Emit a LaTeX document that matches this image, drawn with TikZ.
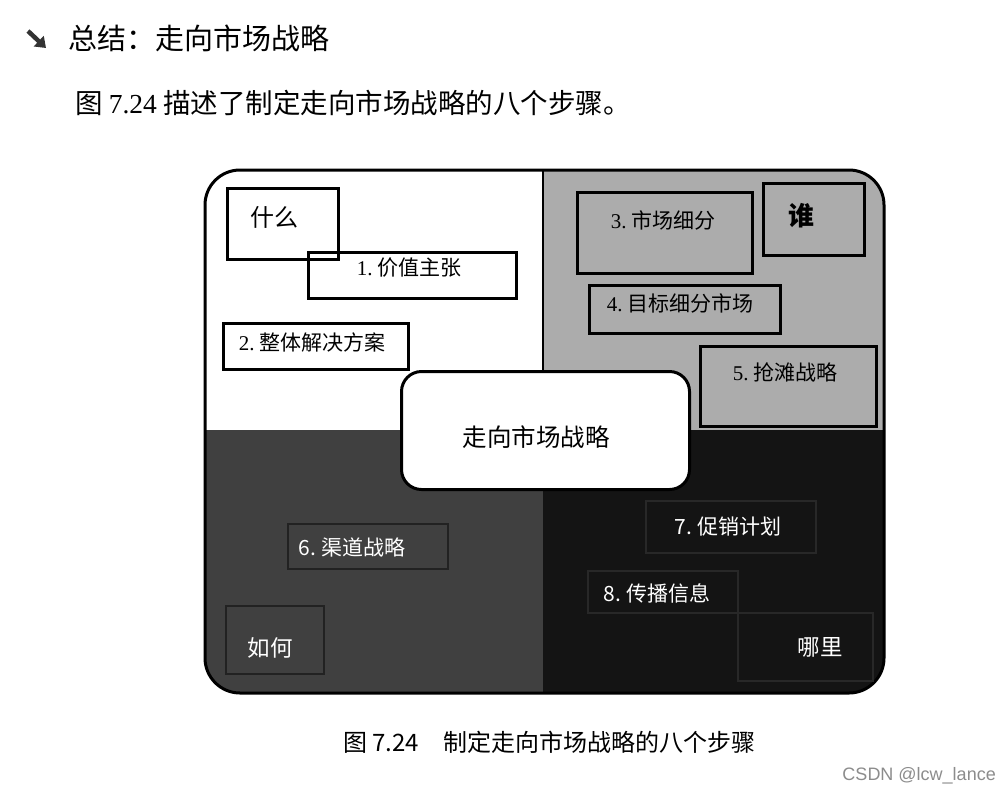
\documentclass[tikz,border=0pt]{standalone}
\usepackage{fontspec}
\usetikzlibrary{arrows.meta}
\newfontfamily\cjk{Noto Sans CJK SC}
\newfontfamily\numserif{Liberation Serif}
\newfontfamily\marchio{Liberation Sans}

\begin{document}
\begin{tikzpicture}[x=1pt, y=-1pt,
  box/.style={draw=black, line width=2.5pt, inner sep=0pt, anchor=north west},
  boxscuro/.style={box, draw=colorBordoScuro, line width=2pt},
  boxnero/.style={box, draw=colorBordoNero, line width=1.5pt},
  etichetta/.style={inner sep=0pt, font=\cjk\fontsize{21}{23}\selectfont},
  domanda/.style={inner sep=0pt, font=\cjk\fontsize{22.5}{24}\selectfont}
    ]
    % Colori locali
    \definecolor{colorGrigio}{RGB}{172, 172, 172}
    \definecolor{colorScuro}{RGB}{64, 64, 64}
    \definecolor{colorNero}{RGB}{20, 20, 20}
    \definecolor{colorBordoScuro}{RGB}{34, 34, 34}
    \definecolor{colorBordoNero}{RGB}{40, 40, 40}

    % Pagina
    \fill[white] (0,0) rectangle (1000,793);
    \useasboundingbox (0,0) rectangle (1000,793);

    % Intestazione
    \coordinate (freccia-a) at (28,31);
    \coordinate (freccia-b) at (46,48);
    \draw[line width=4.5pt, black!80, -{Triangle[length=10pt, width=14pt]}] (freccia-a) -- (freccia-b);
    \node[anchor=west, inner sep=0pt, font=\cjk\fontsize{29}{31}\selectfont] (titolo) at (68,38) {总结：走向市场战略};
    \node[anchor=west, inner sep=0pt, font=\cjk\fontsize{27.5}{30}\selectfont] (testo) at (75,103) {图 {\numserif 7.24} 描述了制定走向市场战略的八个步骤。};

    % Quadranti
    \begin{scope}
      \clip[rounded corners=35pt] (205,170) rectangle (884,693);
      \fill[colorGrigio] (543,170) rectangle (884,430);
      \fill[colorScuro] (205,430) rectangle (543,693);
      \fill[colorNero] (543,430) rectangle (884,693);
    \end{scope}
    \draw[line width=2pt] (543,170) -- (543,430);
    \draw[line width=3pt, rounded corners=35pt] (205,170) rectangle (884,693);

    % Blocchi in alto a sinistra
    \node[box, minimum width=111pt, minimum height=71pt] (cosa) at (226,187) {};
    \node[inner sep=0pt, font=\cjk\fontsize{24}{26}\selectfont] (cosa-t) at (274,217) {什么};
    \node[box, minimum width=208pt, minimum height=46pt] (valore) at (307,251) {};
    \node[etichetta] (valore-t) at (409,268) {{\numserif 1.}\ 价值主张};
    \node[box, minimum width=185pt, minimum height=46pt] (soluzione) at (222,322) {};
    \node[etichetta] (soluzione-t) at (312,342) {{\numserif 2.}\ 整体解决方案};

    % Blocchi in alto a destra
    \node[box, minimum width=175pt, minimum height=81pt] (segmenti) at (576,191) {};
    \node[etichetta] (segmenti-t) at (663,220) {{\numserif 3.}\ 市场细分};
    \node[box, minimum width=101pt, minimum height=72pt] (chi) at (762,182) {};
    \node[inner sep=0pt, font=\cjk\bfseries\fontsize{26}{28}\selectfont] (chi-t) at (801,216) {谁};
    \node[box, minimum width=191pt, minimum height=48pt] (target) at (588,284) {};
    \node[etichetta] (target-t) at (680,303) {{\numserif 4.}\ 目标细分市场};
    \node[box, minimum width=176pt, minimum height=80pt] (testaponte) at (699,345) {};
    \node[etichetta] (testaponte-t) at (785,372) {{\numserif 5.}\ 抢滩战略};

    % Blocchi in basso
    \node[boxscuro, minimum width=160pt, minimum height=45pt] (canali) at (287,523) {};
    \node[etichetta, text=white] (canali-t) at (352,547) {6.\ 渠道战略};
    \node[boxscuro, minimum width=98pt, minimum height=68pt] (come) at (225,605) {};
    \node[domanda, text=white] (come-t) at (270,648) {如何};

    \node[boxnero, minimum width=170pt, minimum height=52pt] (promozione) at (645,500) {};
    \node[etichetta, text=white] (promozione-t) at (728,527) {7.\ 促销计划};
    \node[boxnero, minimum width=150pt, minimum height=42pt] (messaggio) at (587,570) {};
    \node[etichetta, text=white] (messaggio-t) at (657,593) {8.\ 传播信息};
    \node[boxnero, minimum width=135pt, minimum height=68pt] (dove) at (737,612) {};
    \node[domanda, text=white] (dove-t) at (820,647) {哪里};

    % Centro
    \node[draw=black, fill=white, line width=3pt, rounded corners=20pt, minimum width=288pt, minimum height=118pt, anchor=north west] (centro) at (400,370) {};
    \node[inner sep=0pt, font=\cjk\fontsize{24.5}{26}\selectfont] (centro-t) at (536,437) {走向市场战略};

    % Didascalia
    \node[anchor=west, inner sep=0pt, font=\cjk\fontsize{24}{26}\selectfont] (didascalia) at (343,742) {图 7.24\hspace{1em}制定走向市场战略的八个步骤};
    \node[anchor=east, inner sep=0pt, font=\marchio\fontsize{18}{20}\selectfont, text=black!45] (firma) at (996,776) {CSDN @lcw\_lance};
    \end{tikzpicture}
\end{document}
